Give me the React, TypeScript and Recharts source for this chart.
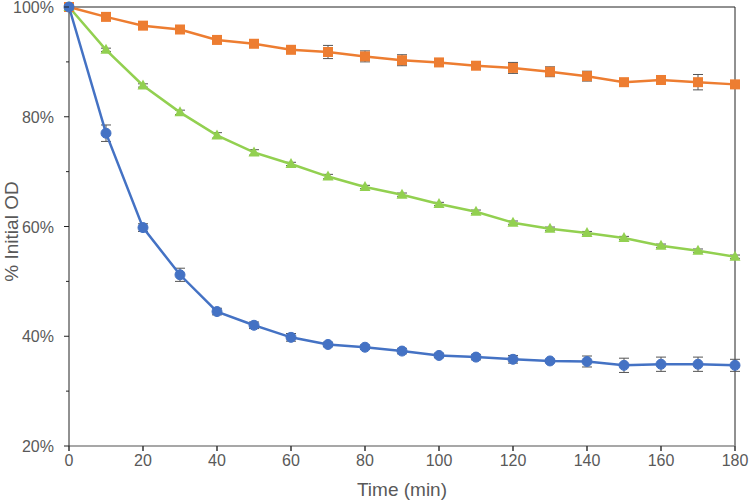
import React from 'react';
import { LineChart, Line, XAxis, YAxis, ErrorBar, ReferenceLine } from 'recharts';

const times = [0, 10, 20, 30, 40, 50, 60, 70, 80, 90, 100, 110, 120, 130, 140, 150, 160, 170, 180];

const blueValues = [100, 77.0, 59.8, 51.2, 44.5, 42.0, 39.8, 38.5, 38.0, 37.3, 36.5, 36.2, 35.8, 35.5, 35.4, 34.7, 34.9, 34.9, 34.7];
const blueErrors = [0, 1.5, 0.7, 1.2, 0.6, 0.6, 0.7, 0.4, 0.4, 0.5, 0.4, 0.5, 0.7, 0.3, 1.0, 1.3, 1.3, 1.3, 1.1];

const orangeValues = [100, 98.2, 96.6, 95.9, 94.0, 93.3, 92.2, 91.8, 91.0, 90.3, 89.9, 89.3, 88.9, 88.2, 87.4, 86.3, 86.7, 86.3, 85.9];
const orangeErrors = [0, 0.5, 0.3, 0.6, 0.5, 0.4, 0.6, 1.2, 1.0, 1.0, 0.4, 0.4, 1.0, 0.9, 0.9, 0.3, 0.5, 1.4, 0.4];

const greenValues = [100, 92.2, 85.7, 80.8, 76.6, 73.5, 71.4, 69.1, 67.2, 65.8, 64.1, 62.7, 60.7, 59.6, 58.8, 57.9, 56.5, 55.6, 54.5];
const greenErrors = [0, 0.3, 0.3, 0.4, 0.5, 0.5, 0.3, 0.4, 0.3, 0.3, 0.3, 0.3, 0.3, 0.3, 0.3, 0.3, 0.3, 0.3, 0.3];

const yTicks = [20, 30, 40, 50, 60, 70, 80, 90, 100];
const xTicks = [0, 20, 40, 60, 80, 100, 120, 140, 160, 180];

const data = times.map((t, i) => ({
  time: t,
  blue: blueValues[i],
  blueErr: blueErrors[i],
  orange: orangeValues[i],
  orangeErr: orangeErrors[i],
  green: greenValues[i],
  greenErr: greenErrors[i],
}));

const FONT = '"Liberation Sans", Arial, sans-serif';
const TEXT = '#595959';

const YTick = ({ x, y, payload }: any) => {
  const major = payload.value % 20 === 0;
  return (
    <g>
      <line x1={x - (major ? 5 : 3)} x2={x} y1={y} y2={y} stroke="#222" strokeWidth={1} />
      {major && (
        <text x={x - 15} y={y} dy={6} textAnchor="end" fill={TEXT} fontSize={16} fontFamily={FONT}>
          {payload.value}%
        </text>
      )}
    </g>
  );
};

const CircleDot = ({ cx, cy }: any) => <circle cx={cx} cy={cy} r={5} fill="#4472C4" stroke="#4472C4" />;
const SquareDot = ({ cx, cy }: any) => <rect x={cx - 5} y={cy - 5} width={10} height={10} fill="#ED7D31" />;
const TriangleDot = ({ cx, cy }: any) => (
  <polygon points={`${cx},${cy - 6} ${cx + 5.5},${cy + 4} ${cx - 5.5},${cy + 4}`} fill="#92D050" />
);

export default function App() {
  return (
    <div style={{ position: 'absolute', left: 0, top: 0, background: '#fff' }}>
      <LineChart width={749} height={501} data={data} margin={{ top: 7, right: 14, left: 0, bottom: 0 }}>
        <XAxis
          dataKey="time"
          type="number"
          domain={[0, 180]}
          ticks={xTicks}
          stroke="#8a8a8a"
          strokeWidth={1.5}
          tickLine={{ stroke: '#333' }}
          tickSize={5}
          tickMargin={4}
          height={55}
          tick={{ fill: TEXT, fontSize: 16, fontFamily: FONT }}
          label={{ value: 'Time (min)', position: 'insideBottom', offset: 5, fill: TEXT, fontSize: 19, fontFamily: FONT }}
        />
        <YAxis
          type="number"
          domain={[20, 100]}
          ticks={yTicks}
          interval={0}
          width={69}
          stroke="#222"
          tickLine={false}
          tickSize={0}
          tickMargin={0}
          tick={<YTick />}
          label={{ value: '% Initial OD', angle: -90, position: 'insideLeft', offset: 11, dy: 5, fill: TEXT, fontSize: 19, fontFamily: FONT, style: { textAnchor: 'middle' } }}
        />
        <ReferenceLine y={100} stroke="#222" strokeWidth={1} />
        <ReferenceLine x={180} stroke="#222" strokeWidth={1} />
        <Line dataKey="orange" stroke="#ED7D31" strokeWidth={2.5} dot={<SquareDot />} isAnimationActive={false}>
          <ErrorBar dataKey="orangeErr" width={5} strokeWidth={1} stroke="#555" />
        </Line>
        <Line dataKey="green" stroke="#92D050" strokeWidth={2.5} dot={<TriangleDot />} isAnimationActive={false}>
          <ErrorBar dataKey="greenErr" width={5} strokeWidth={1} stroke="#555" />
        </Line>
        <Line dataKey="blue" stroke="#4472C4" strokeWidth={2.5} dot={<CircleDot />} isAnimationActive={false}>
          <ErrorBar dataKey="blueErr" width={5} strokeWidth={1} stroke="#555" />
        </Line>
      </LineChart>
    </div>
  );
}
